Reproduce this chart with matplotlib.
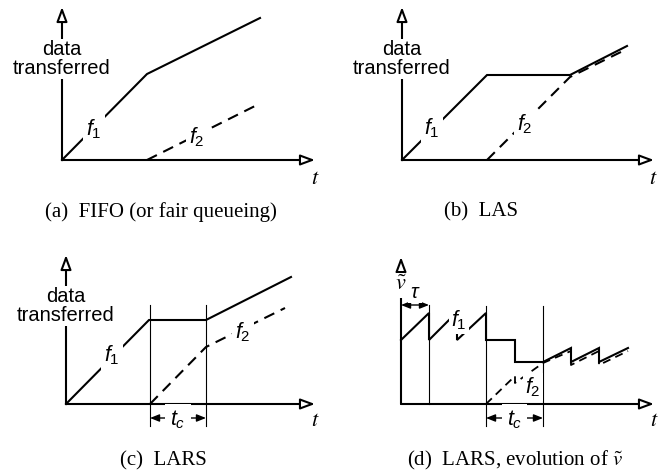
import matplotlib
matplotlib.use('Agg')
import matplotlib.pyplot as plt

plt.rcParams['mathtext.fontset'] = 'custom'
plt.rcParams['mathtext.it'] = 'Liberation Sans:italic'
plt.rcParams['mathtext.rm'] = 'Liberation Sans'
plt.rcParams['font.family'] = ['Liberation Sans', 'DejaVu Sans']

# ---------------- data (schematic units) ----------------
# (a) FIFO
a_f1_t = [0, 85, 198]
a_f1_v = [0, 86, 142]
a_f2_t = [85, 193]
a_f2_v = [0, 54]
# (b) LAS
b_f1_t = [0, 85, 168, 225]
b_f1_v = [0, 85, 85, 114]
b_f2_t = [85, 168, 225]
b_f2_v = [0, 83, 111]
# (c) LARS
c_f1_t = [0, 83, 140, 225]
c_f1_v = [0, 84, 84, 127]
c_f2_t = [84, 140, 219]
c_f2_v = [0, 57, 96]
c_marks = [84, 140]
# (d) LARS, evolution of v~
d_f1_t = [0, 28, 28, 56, 56, 85, 85, 114, 114, 142, 170, 170, 198, 198, 227]
d_f1_v = [64, 91, 64, 92, 64, 91, 64, 64, 42, 42, 56, 42, 56, 42, 56]
d_f2_t = [85, 114, 114, 142, 170, 170, 198, 198, 227]
d_f2_v = [0, 28, 21, 41, 53, 39, 53, 39, 53]
d_tau = 28
d_marks = [85, 142]

captions = ['(a)  FIFO (or fair queueing)', '(b)  LAS', '(c)  LARS',
            '(d)  LARS, evolution of $\\tilde{v}$']

W, H = 665, 471
fig = plt.figure(figsize=(6.65, 4.71), dpi=100)

LW = 1.5
DASH = (0, (5.3, 3.4))
FSZ = 15.5


def make_ax(qx0, qy0, qw, qh, ox, oy):
    ax = fig.add_axes([qx0 / W, 1 - (qy0 + qh) / H, qw / W, qh / H])
    ax.set_xlim(qx0 - ox, qx0 + qw - ox)
    ax.set_ylim(oy - (qy0 + qh), oy - qy0)
    ax.axis('off')
    return ax


def axes_arrows(ax, xend, yend):
    style = '-|>,head_length=0.62,head_width=0.23'
    for tip in [(xend, 0), (0, yend)]:
        ax.annotate('', xy=tip, xytext=(0, 0),
                    arrowprops=dict(arrowstyle=style, fc='white', ec='black',
                                    lw=LW, mutation_scale=14, shrinkA=0, shrinkB=0),
                    zorder=2)


def dbl_arrow(ax, x0, x1, y):
    ax.annotate('', xy=(x1, y), xytext=(x0, y),
                arrowprops=dict(arrowstyle='<|-|>,head_length=0.55,head_width=0.22',
                                fc='black', ec='black', lw=1.0, mutation_scale=10,
                                shrinkA=0, shrinkB=0), zorder=2)


def lab(ax, x, y, s, size=FSZ, pad=2.5, **kw):
    ax.text(x, y, s, ha='center', va='center', fontsize=size, zorder=5,
            bbox=dict(fc='white', ec='none', pad=pad), **kw)


def tlabel(ax, x, y):
    ax.text(x, y, '$t$', ha='center', va='center', fontsize=16,
            math_fontfamily='stix', zorder=5)


def caption(ax, x, y, s):
    ax.text(x, y, s, ha='center', va='center', fontsize=15, clip_on=False,
            family='Liberation Serif', math_fontfamily='stix')


def ylabel_data(ax, y):
    lab(ax, 0, y, 'data\ntransferred', size=14.5, pad=1.0, linespacing=1.0)


# ---- (a)
ax = make_ax(0, 0, 332, 235, 62, 160)
axes_arrows(ax, 253, 153)
ax.plot(a_f1_t, a_f1_v, color='black', lw=LW, solid_joinstyle='miter', zorder=3)
ax.plot(a_f2_t, a_f2_v, color='black', lw=LW, linestyle=DASH, zorder=3)
ylabel_data(ax, 101)
lab(ax, 32, 31, '$f_1$')
lab(ax, 135, 23, '$f_2$')
tlabel(ax, 253, -19)
caption(ax, 99, -52, captions[0])

# ---- (b)
ax = make_ax(332, 0, 333, 235, 402, 160)
axes_arrows(ax, 252, 153)
ax.plot(b_f1_t, b_f1_v, color='black', lw=LW, solid_joinstyle='miter', zorder=3)
ax.plot(b_f2_t, b_f2_v, color='black', lw=LW, linestyle=DASH, zorder=3)
ylabel_data(ax, 101)
lab(ax, 30, 32, '$f_1$')
lab(ax, 123, 36, '$f_2$')
tlabel(ax, 251, -19)
caption(ax, 79, -52, captions[1])

# ---- (c)
ax = make_ax(0, 235, 332, 236, 66, 404)
axes_arrows(ax, 249, 149)
for m in c_marks:
    ax.plot([m, m], [-22, 99], color='black', lw=0.8, zorder=2)
ax.plot(c_f1_t, c_f1_v, color='black', lw=LW, solid_joinstyle='miter', zorder=3)
ax.plot(c_f2_t, c_f2_v, color='black', lw=LW, linestyle=DASH, zorder=3)
dbl_arrow(ax, c_marks[0], c_marks[1], -14)
lab(ax, (c_marks[0] + c_marks[1]) / 2, -16, '$t_c$', pad=3.5)
ylabel_data(ax, 98)
lab(ax, 46, 49, '$f_1$')
lab(ax, 177, 72, '$f_2$')
tlabel(ax, 249, -17)
caption(ax, 97, -57, captions[2])

# ---- (d)
ax = make_ax(332, 235, 333, 236, 401, 404)
axes_arrows(ax, 253, 147)
ax.plot([d_tau, d_tau], [0, 99], color='black', lw=0.8, zorder=2)
for m in d_marks:
    ax.plot([m, m], [-22, 98], color='black', lw=0.8, zorder=2)
ax.plot(d_f1_t, d_f1_v, color='black', lw=LW, solid_joinstyle='miter', zorder=3)
ax.plot(d_f2_t, d_f2_v, color='black', lw=1.3, linestyle=(0, (4.5, 3)), zorder=3)
dbl_arrow(ax, 0, d_tau, 99)
lab(ax, d_tau / 2, 112, '$\\tau$', size=14.5, pad=1.0)
dbl_arrow(ax, d_marks[0], d_marks[1], -14)
lab(ax, (d_marks[0] + d_marks[1]) / 2, -16, '$t_c$', pad=3.5)
lab(ax, 0, 119, '$\\tilde{v}$', size=16, pad=1.5, math_fontfamily='stix')
lab(ax, 58, 84, '$f_1$', pad=1.5)
lab(ax, 132, 17, '$f_2$', pad=1.5)
tlabel(ax, 253, -17)
caption(ax, 114, -56, captions[3])

fig.savefig('out.png', dpi=100)
